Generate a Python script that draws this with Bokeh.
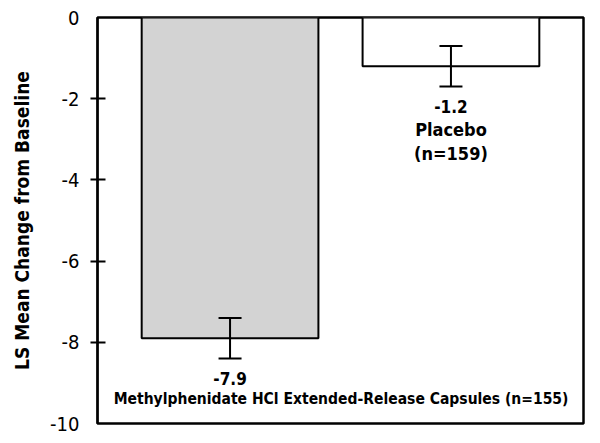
from bokeh.plotting import figure
from bokeh.models import ColumnDataSource, FactorRange, Range1d, FixedTicker, Whisker, TeeHead
from bokeh.core.properties import value
from bokeh.embed import file_html
from bokeh.resources import INLINE

# ---- data ----
group_keys = ["MPH", "Placebo"]
group_names = ["Methylphenidate HCl Extended-Release Capsules", "Placebo"]
n_subjects = [155, 159]
ls_means = [-7.9, -1.2]
std_errors = [0.5, 0.5]
bar_colors = ["#d3d3d3", "#ffffff"]
y_ticks = [0, -2, -4, -6, -8, -10]
y_tick_marks = [-2, -4, -6, -8]
y_title = "LS Mean Change from Baseline"

FONT = "DejaVu Sans Condensed"

lower = [m - e for m, e in zip(ls_means, std_errors)]
upper = [m + e for m, e in zip(ls_means, std_errors)]
src = ColumnDataSource(dict(x=group_keys, top=ls_means, lower=lower, upper=upper,
                            color=bar_colors,
                            vlabel=[f"{m:.1f}" for m in ls_means]))

p = figure(x_range=FactorRange(factors=group_keys, range_padding=0.1),
           y_range=Range1d(-10, 0),
           width=592, height=435,
           min_border_left=97, min_border_right=9, min_border_top=17, min_border_bottom=12,
           output_backend="svg", toolbar_location=None, tools="")

p.vbar(x="x", top="top", bottom=0, width=0.8, source=src,
       fill_color="color", line_color="black", line_width=2)

w = Whisker(source=src, base="x", upper="upper", lower="lower", dimension="height",
            line_color="black", line_width=2, level="overlay")
w.upper_head = TeeHead(size=23, line_color="black", line_width=2)
w.lower_head = TeeHead(size=23, line_color="black", line_width=2)
p.add_layout(w)

# value labels under the error bars
p.text(x="x", y="lower", text="vlabel", source=src, y_offset=20,
       text_align="center", text_baseline="middle",
       text_font=value(FONT), text_font_style="bold", text_font_size="17px", text_color="black")

# Methylphenidate group name (one line, centred in the plot)
mph_src = ColumnDataSource(dict(x=[group_keys[0]], y=[lower[0]],
                                t=[f"{group_names[0]} (n={n_subjects[0]})"]))
p.text(x="x", y="y", text="t", source=mph_src, x_offset=111, y_offset=40,
       text_align="center", text_baseline="middle",
       text_font=value(FONT), text_font_style="bold", text_font_size="15.5px", text_color="black")

# Placebo group name (two lines)
pbo_src = ColumnDataSource(dict(x=[group_keys[1]], y=[lower[1]], t1=[group_names[1]],
                                t2=[f"(n={n_subjects[1]})"]))
p.text(x="x", y="y", text="t1", source=pbo_src, y_offset=43,
       text_align="center", text_baseline="middle",
       text_font=value(FONT), text_font_style="bold", text_font_size="18px", text_color="black")
p.text(x="x", y="y", text="t2", source=pbo_src, y_offset=67,
       text_align="center", text_baseline="middle",
       text_font=value(FONT), text_font_style="bold", text_font_size="18px", text_color="black")

p.xaxis.visible = False
p.xgrid.visible = False
p.ygrid.visible = False
p.outline_line_color = "black"
p.outline_line_width = 2.5

ya = p.yaxis[0]
# labels at every tick; visible tick marks only at the inner values
ya.ticker = FixedTicker(ticks=y_ticks, minor_ticks=y_tick_marks)
ya.major_label_overrides = {t: str(t) for t in y_ticks}
ya.major_tick_line_color = None
ya.major_tick_in = 8
ya.major_tick_out = 7
ya.minor_tick_in = 8
ya.minor_tick_out = 7
ya.minor_tick_line_width = 2
ya.minor_tick_line_color = "black"
ya.axis_line_color = "black"
ya.axis_line_width = 2
ya.major_label_standoff = 11
ya.major_label_text_font = FONT
ya.major_label_text_font_size = "20px"
ya.major_label_text_color = "black"
ya.axis_label = y_title
ya.axis_label_text_font = FONT
ya.axis_label_text_font_style = "bold"
ya.axis_label_text_font_size = "19px"
ya.axis_label_text_color = "black"
ya.axis_label_standoff = 14

open("out.html", "w").write(file_html(p, INLINE))
